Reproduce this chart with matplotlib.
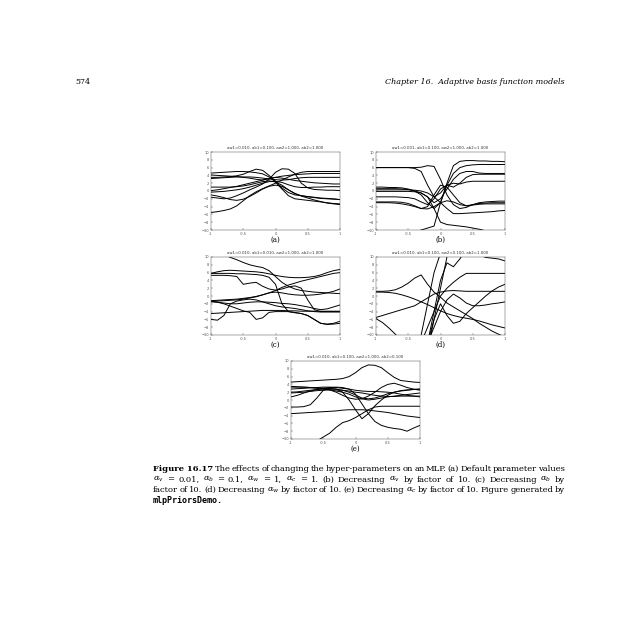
import numpy as np
import matplotlib
matplotlib.use("Agg")
import matplotlib.pyplot as plt

plt.rcParams['mathtext.fontset'] = 'dejavuserif'

# ---------------- data ----------------
x_grid = [-1.0, -0.9, -0.8, -0.7, -0.6, -0.5, -0.4, -0.3, -0.2, -0.1, 0.0,
          0.1, 0.2, 0.3, 0.4, 0.5, 0.6, 0.7, 0.8, 0.9, 1.0]

titles = ["aw1=0.010, ab1=0.100, aw2=1.000, ab2=1.000",
          "aw1=0.001, ab1=0.100, aw2=1.000, ab2=1.000",
          "aw1=0.010, ab1=0.010, aw2=1.000, ab2=1.000",
          "aw1=0.010, ab1=0.100, aw2=0.100, ab2=1.000",
          "aw1=0.010, ab1=0.100, aw2=1.000, ab2=0.100"]
panel_labels = ["(a)", "(b)", "(c)", "(d)", "(e)"]
y_ticks = [-10, -8, -6, -4, -2, 0, 2, 4, 6, 8, 10]
x_ticks = [-1, -0.5, 0, 0.5, 1]
x_tick_labels = ["-1", "-0.5", "0", "0.5", "1"]

curves_a = [
    [4.6, 4.7, 4.8, 4.9, 5.0, 5.0, 4.9, 4.7, 4.4, 3.6, 2.3, 0.5, -1.2, -2.0, -2.2, -2.4, -2.6, -2.8, -3.0, -3.2, -3.3],
    [3.5, 3.5, 3.6, 3.7, 3.9, 4.3, 5.0, 5.6, 5.3, 4.0, 2.5, 0.8, -0.4, -1.0, -1.2, -1.4, -1.6, -1.8, -1.9, -2.0, -2.2],
    [-1.6, -1.8, -2.0, -1.8, -1.2, -0.5, 0.3, 1.0, 1.8, 3.0, 4.8, 5.7, 5.6, 4.5, 2.0, 0.8, 0.4, 0.3, 0.2, 0.2, 0.1],
    [-5.5, -5.3, -5.0, -4.6, -3.8, -2.5, -1.2, -0.2, 0.6, 1.3, 2.0, 2.8, 3.6, 4.3, 4.8, 5.0, 5.0, 5.0, 5.0, 5.0, 5.0],
    [3.2, 3.3, 3.4, 3.5, 3.6, 3.6, 3.6, 3.5, 3.3, 3.1, 2.9, 2.8, 2.9, 3.2, 3.4, 3.5, 3.5, 3.5, 3.5, 3.5, 3.5],
    [0.1, 0.3, 0.6, 0.9, 1.2, 1.6, 2.0, 2.4, 2.8, 3.2, 3.5, 3.8, 4.0, 4.2, 4.3, 4.4, 4.5, 4.5, 4.5, 4.5, 4.5],
    [-0.3, -0.2, -0.1, 0.1, 0.3, 0.6, 1.0, 1.5, 2.0, 2.4, 2.5, 2.2, 1.6, 1.1, 0.9, 0.9, 1.0, 1.0, 1.1, 1.1, 1.1],
    [4.1, 4.0, 3.9, 3.8, 3.7, 3.5, 3.3, 3.0, 2.8, 3.2, 3.5, 3.3, 3.0, 2.7, 2.5, 2.3, 2.1, 2.0, 1.9, 1.8, 1.8],
    [-1.0, -1.3, -1.7, -2.2, -2.4, -2.1, -1.4, -0.5, 0.5, 1.2, 1.5, 1.2, 0.3, -0.6, -1.3, -1.8, -2.3, -2.7, -3.1, -3.3, -3.5],
    [1.0, 1.0, 1.0, 1.0, 1.1, 1.3, 1.6, 2.0, 2.4, 2.6, 2.3, 1.5, 0.3, -0.7, -1.2, -1.5, -1.7, -1.9, -2.0, -2.1, -2.2],
]

curves_b = [
    [6.0, 6.0, 6.0, 6.0, 6.0, 6.0, 5.8, 5.0, 1.5, -1.5, -3.0, -4.5, -5.8, -5.8, -5.7, -5.6, -5.5, -5.4, -5.3, -5.1, -5.0],
    [6.0, 6.0, 6.0, 6.0, 6.0, 6.0, 6.0, 6.1, 6.5, 6.3, 3.0, -1.0, -3.5, -4.5, -4.2, -3.5, -3.0, -2.8, -2.7, -2.6, -2.6],
    [0.6, 0.6, 0.6, 0.6, 0.5, 0.4, 0.0, -1.0, -3.0, -4.5, -3.0, 2.0, 6.5, 7.6, 7.8, 7.8, 7.7, 7.7, 7.6, 7.6, 7.5],
    [0.3, 0.3, 0.3, 0.3, 0.3, 0.3, 0.2, 0.0, -0.5, -1.5, -0.5, 1.5, 4.5, 6.0, 6.5, 6.7, 6.8, 6.8, 6.8, 6.8, 6.8],
    [-0.1, -0.1, -0.1, -0.1, -0.1, -0.1, -0.2, -0.5, -1.5, -3.0, -2.0, 0.5, 3.0, 4.5, 5.0, 5.0, 4.6, 4.5, 4.5, 4.5, 4.5],
    [-1.5, -1.5, -1.5, -1.5, -1.6, -1.7, -2.0, -2.8, -3.5, -2.0, 0.5, 1.5, 1.0, 2.0, 3.5, 4.2, 4.3, 4.3, 4.3, 4.3, 4.3],
    [-2.8, -2.8, -2.8, -2.8, -2.9, -3.2, -3.8, -4.5, -4.0, -1.0, 1.5, 1.0, -1.0, -3.0, -3.8, -3.6, -3.4, -3.3, -3.3, -3.3, -3.3],
    [-3.0, -3.0, -3.0, -3.1, -3.3, -3.6, -4.0, -4.5, -4.6, -4.0, -3.0, -2.5, -2.8, -3.5, -3.8, -3.5, -3.2, -3.1, -3.0, -3.0, -3.0],
    [-14.0, -13.0, -12.5, -12.0, -11.5, -11.0, -10.5, -10.0, -9.5, -9.0, -3.0, 1.5, 2.0, 1.8, 2.3, 2.5, 2.5, 2.5, 2.5, 2.5, 2.5],
    [1.0, 1.0, 0.9, 0.9, 0.8, 0.5, 0.0, -0.5, -1.5, -4.5, -8.0, -8.6, -8.8, -9.0, -9.2, -9.5, -9.8, -10.2, -10.8, -11.5, -12.0],
]

curves_c = [
    [12.0, 11.3, 10.6, 9.9, 9.3, 8.6, 8.0, 7.6, 7.3, 6.5, 5.0, 3.5, 2.5, 1.8, 1.4, 1.2, 1.0, 0.9, 0.8, 0.7, 0.6],
    [5.8, 6.2, 6.5, 6.6, 6.5, 6.4, 6.3, 6.2, 6.0, 5.7, 5.3, 5.0, 4.8, 4.7, 4.7, 4.8, 5.0, 5.4, 6.0, 6.5, 6.8],
    [5.3, 5.3, 5.3, 5.2, 5.0, 3.0, 3.3, 3.5, 2.5, 1.8, 1.5, 1.8, 2.3, 2.6, 2.0, -1.0, -3.5, -4.0, -4.0, -4.0, -4.0],
    [-1.2, -1.1, -1.0, -0.9, -0.8, -0.6, -0.4, -0.1, 0.3, 0.8, 1.4, 2.2, 2.8, 3.3, 3.8, 4.2, 4.6, 5.0, 5.4, 5.8, 6.0],
    [-1.4, -1.3, -1.2, -1.1, -1.0, -0.8, -0.5, -0.2, 0.3, 0.8, 1.0, 0.8, 0.5, 0.3, 0.2, 0.2, 0.3, 0.5, 0.8, 1.2, 1.8],
    [-1.5, -1.6, -1.8, -2.0, -2.0, -1.8, -1.6, -1.5, -1.5, -1.6, -1.7, -1.9, -2.0, -2.2, -2.5, -2.8, -3.2, -3.5, -3.3, -2.8, -2.3],
    [-4.5, -4.4, -4.3, -4.2, -4.1, -4.0, -3.9, -3.8, -3.7, -3.7, -3.7, -3.7, -3.8, -3.8, -3.9, -3.9, -3.9, -3.9, -3.9, -3.9, -3.9],
    [-6.0, -6.2, -5.0, -2.0, -1.3, -1.0, -0.8, -1.0, -1.5, -2.0, -2.5, -2.8, -3.0, -3.2, -3.5, -3.8, -4.0, -4.1, -4.1, -4.1, -4.1],
    [-1.3, -1.6, -2.0, -2.6, -3.2, -3.8, -4.2, -6.0, -5.6, -4.2, -4.0, -4.0, -4.0, -4.2, -4.5, -5.0, -6.0, -7.0, -7.2, -7.0, -6.5],
    [5.8, 5.8, 5.8, 5.8, 5.7, 5.7, 5.6, 5.5, 5.3, 4.8, 3.0, -2.0, -4.0, -4.3, -4.5, -5.0, -6.0, -7.0, -7.3, -7.2, -7.0],
]

curves_d = [
    [1.2, 1.2, 1.3, 1.6, 2.3, 3.3, 4.6, 5.4, 3.0, 1.0, -0.3, -1.8, -2.8, -3.8, -4.8, -5.8, -7.0, -8.0, -9.0, -9.8, -10.5],
    [1.0, 1.0, 0.9, 0.7, 0.3, -0.2, -0.8, -1.5, -2.2, -3.0, -3.8, -4.5, -5.0, -5.4, -5.7, -6.0, -6.4, -6.9, -7.4, -7.8, -8.2],
    [-5.5, -5.0, -4.5, -4.0, -3.5, -3.0, -2.5, -1.5, -0.5, 0.5, 1.0, 1.3, 1.4, 1.3, 1.2, 1.2, 1.2, 1.2, 1.2, 1.2, 1.2],
    [-5.8, -6.8, -8.2, -9.8, -11.5, -13.0, -14.5, -16.0, -17.5, -19.0, -20.0, -21.0, -22.0, -23.0, -24.0, -25.0, -26.0, -27.0, -28.0, -29.0, -30.0],
    [-30.0, -28.0, -26.0, -24.0, -22.0, -18.0, -14.0, -10.0, -2.0, 6.0, 11.0, 12.5, 12.0, 11.0, 12.0, 13.0, 14.0, 15.0, 16.0, 17.0, 18.0],
    [-30.0, -28.0, -26.0, -24.0, -22.0, -20.0, -18.0, -16.0, -12.0, -4.0, 4.0, 8.5, 7.5, 9.5, 12.0, 14.0, 15.0, 16.0, 17.0, 18.0, 19.0],
    [-30.0, -28.0, -26.0, -24.0, -22.0, -19.0, -16.0, -12.0, -8.0, -4.0, 0.0, 2.0, 3.5, 4.8, 5.8, 5.8, 5.8, 5.8, 5.8, 5.8, 5.8],
    [-30.0, -28.0, -26.0, -24.0, -22.0, -20.0, -17.0, -15.0, -12.0, -6.0, -2.0, -5.0, -7.0, -6.5, -4.5, -3.0, -1.5, 0.0, 1.3, 2.3, 3.0],
    [-30.0, -28.0, -26.0, -24.0, -22.0, -20.0, -17.0, -15.0, -12.0, -8.0, -4.0, -1.0, 0.5, -0.5, -1.8, -2.5, -2.5, -2.3, -2.0, -1.8, -1.5],
    [-30.0, -28.0, -26.0, -24.0, -22.0, -20.0, -17.0, -20.0, -14.0, -6.0, 2.0, 10.0, 14.0, 15.0, 14.0, 12.0, 10.5, 9.9, 9.7, 9.5, 9.0],
]

curves_e = [
    [4.6, 4.7, 4.8, 4.9, 5.0, 5.1, 5.2, 5.3, 5.5, 6.0, 7.0, 8.3, 9.0, 8.9, 8.3, 7.0, 5.8, 5.0, 4.8, 4.6, 4.5],
    [3.3, 3.3, 3.3, 3.2, 3.1, 3.0, 2.9, 2.8, 2.5, 2.0, 1.3, 0.5, 0.3, 0.5, 1.0, 1.6, 2.0, 2.3, 2.5, 2.7, 2.8],
    [2.8, 2.9, 3.0, 3.1, 3.2, 3.3, 3.3, 3.2, 3.0, 2.8, 2.5, 2.3, 2.2, 2.2, 2.1, 2.0, 1.8, 1.5, 1.2, 1.0, 0.8],
    [2.0, 2.1, 2.3, 2.5, 2.7, 2.8, 2.6, 2.0, 1.2, 0.5, 0.2, 0.3, 1.0, 2.0, 3.2, 4.0, 4.3, 3.8, 3.2, 2.8, 2.5],
    [1.8, 1.9, 2.0, 2.2, 2.4, 2.5, 2.6, 2.6, 2.5, 2.3, 2.0, 1.8, 1.5, 1.2, 1.0, 0.9, 0.9, 1.0, 1.0, 1.0, 1.0],
    [0.8, 1.2, 1.8, 2.3, 2.7, 3.0, 3.2, 3.3, 3.2, 2.8, 1.5, -1.0, -3.5, -5.5, -6.5, -7.0, -7.3, -7.5, -8.0, -7.2, -6.5],
    [-1.8, -1.8, -1.7, -1.2, 0.5, 2.5, 3.0, 2.8, 2.0, 0.0, -2.5, -4.8, -3.5, -1.5, 0.0, 1.2, 2.0, 2.4, 2.6, 2.7, 2.8],
    [-3.5, -3.4, -3.3, -3.2, -3.1, -3.0, -2.9, -2.8, -2.6, -2.5, -2.5, -2.5, -2.6, -2.8, -3.0, -3.2, -3.5, -3.8, -4.1, -4.3, -4.5],
    [-14.0, -13.0, -12.0, -11.0, -10.5, -9.5, -8.5, -7.0, -5.8, -5.3, -4.5, -3.5, -2.5, -1.8, -1.6, -1.6, -1.6, -1.6, -1.6, -1.6, -1.6],
    [3.5, 3.4, 3.3, 3.2, 3.0, 2.8, 2.6, 2.3, 2.0, 1.5, 0.8, 0.3, 0.0, 0.2, 0.5, 0.8, 1.0, 1.2, 1.4, 1.6, 1.8],
]

all_curves = [curves_a, curves_b, curves_c, curves_d, curves_e]

caption_lines = [
    [("Figure 16.17", "bold"), ("The", ""), ("effects", ""), ("of", ""), ("changing", ""),
     ("the", ""), ("hyper-parameters", ""), ("on", ""), ("an", ""), ("MLP.", ""), ("(a)", ""),
     ("Default", ""), ("parameter", ""), ("values", "")],
    [(r"$\alpha_v$", ""), ("=", ""), ("0.01,", ""), (r"$\alpha_b$", ""), ("=", ""), ("0.1,", ""),
     (r"$\alpha_w$", ""), ("=", ""), ("1,", ""), (r"$\alpha_c$", ""), ("=", ""), ("1.", ""),
     ("(b)", ""), ("Decreasing", ""), (r"$\alpha_v$", ""), ("by", ""), ("factor", ""), ("of", ""),
     ("10.", ""), ("(c)", ""), ("Decreasing", ""), (r"$\alpha_b$", ""), ("by", "")],
    [("factor", ""), ("of", ""), ("10.", ""), ("(d)", ""), ("Decreasing", ""), (r"$\alpha_w$", ""),
     ("by", ""), ("factor", ""), ("of", ""), ("10.", ""), ("(e)", ""), ("Decreasing", ""),
     (r"$\alpha_c$", ""), ("by", ""), ("factor", ""), ("of", ""), ("10.", ""), ("Figure", ""),
     ("generated", ""), ("by", "")],
]
caption_last = "mlpPriorsDemo."

# ---------------- layout ----------------
W = H = 640.0
fig = plt.figure(figsize=(6.4, 6.4), dpi=100)
fig.patch.set_facecolor("white")

boxes = [(211, 152), (376, 152), (211, 257), (376, 257), (291, 361)]
aw, ah = 129, 78

for i, (lx, ty) in enumerate(boxes):
    ax = fig.add_axes([lx / W, 1 - (ty + ah) / H, aw / W, ah / H])
    for c in all_curves[i]:
        ax.plot(x_grid, c, color="black", lw=0.7, solid_joinstyle="round")
    ax.set_xlim(-1, 1)
    ax.set_ylim(-10, 10)
    ax.set_yticks(y_ticks)
    ax.set_xticks(x_ticks)
    ax.set_xticklabels(x_tick_labels)
    ax.tick_params(labelsize=2.6, length=1.2, width=0.3, pad=1.2,
                   direction="in", colors="#444444", labelcolor="#555555")
    for s in ax.spines.values():
        s.set_linewidth(0.35)
        s.set_color("#555555")
    ax.set_title(titles[i], fontsize=2.8, pad=2.5, color="#333333")
    fig.text((lx + aw / 2) / W, 1 - (ty + ah + 10) / H, panel_labels[i],
             fontsize=5, family="DejaVu Serif", ha="center", va="center")

# ---------------- page header ----------------
fig.text(75 / W, 1 - 82 / H, "574", fontsize=5.8, family="DejaVu Serif",
         ha="left", va="center")
fig.text(565 / W, 1 - 82 / H, "Chapter 16.  Adaptive basis function models",
         fontsize=5.8, family="DejaVu Serif", style="italic",
         ha="right", va="center")

# ---------------- caption (justified) ----------------
fs = 6.0
x0, x1 = 153.0, 565.0
line_y = [469, 479.5, 490]
renderer = fig.canvas.get_renderer()
for words, yy in zip(caption_lines, line_y):
    texts = []
    widths = []
    for w, wt in words:
        t = fig.text(0, 1 - yy / H, w, fontsize=fs, family="DejaVu Serif",
                     weight=("bold" if wt else "normal"), ha="left", va="center")
        texts.append(t)
        widths.append(t.get_window_extent(renderer).width)
    gap = (x1 - x0 - sum(widths)) / (len(words) - 1)
    xc = x0
    for t, wdt in zip(texts, widths):
        t.set_x(xc / W)
        xc += wdt + gap
fig.text(x0 / W, 1 - 500.5 / H, caption_last, fontsize=fs, family="DejaVu Sans Mono",
         weight="bold", ha="left", va="center")

fig.savefig("out.png", dpi=100, facecolor="white")
